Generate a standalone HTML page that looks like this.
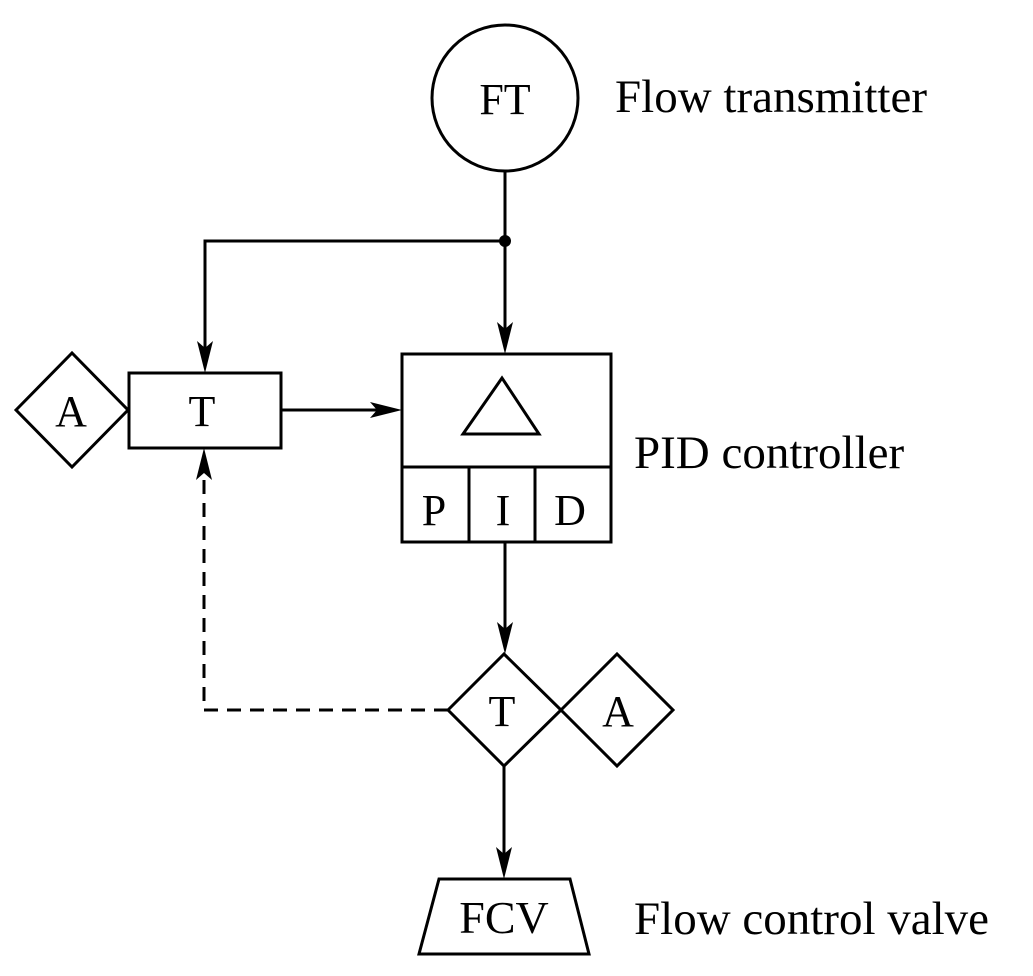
<!DOCTYPE html>
<html><head><meta charset="utf-8"><style>html,body{margin:0;padding:0;background:#fff}</style></head>
<body>
<svg width="1033" height="971" viewBox="0 0 1033 971" xmlns="http://www.w3.org/2000/svg" font-family="Liberation Serif, serif" fill="none" stroke="#000" stroke-width="3">
<circle cx="505" cy="98" r="73"/>
<line x1="505" y1="171" x2="505" y2="340"/>
<circle cx="505" cy="241" r="6" fill="#000" stroke="none"/>
<polyline points="505,241 205,241 205,360"/>
<rect x="129" y="373" width="152" height="75"/>
<polygon points="16,410 72,353 128,410 72,467"/>
<line x1="281" y1="410" x2="390" y2="410"/>
<rect x="402" y="354" width="209" height="188"/>
<line x1="402" y1="467" x2="611" y2="467"/>
<line x1="469" y1="467" x2="469" y2="542"/>
<line x1="535" y1="467" x2="535" y2="542"/>
<polygon points="502,378 463,434 539,434"/>
<line x1="505" y1="542" x2="505" y2="640"/>
<polygon points="448,710 504,654 561,710 504,766"/>
<polygon points="561,710 617,654 673,710 617,766"/>
<polyline points="448,710 204,710 204,480" stroke-dasharray="14,9"/>
<line x1="504" y1="766" x2="504" y2="865"/>
<polygon points="439,879 570,879 589,954 419,954"/>
<g fill="#000" stroke="none">
<polygon points="505,354 497,322 505,329 513,322"/>
<polygon points="205,373 197,341 205,348 213,341"/>
<polygon points="402,410 370,402 377,410 370,418"/>
<polygon points="505,654 497,622 505,629 513,622"/>
<polygon points="504,879 496,847 504,854 512,847"/>
<polygon points="204,448 196,480 204,473 212,480"/>
</g>
<g fill="#000" stroke="none" font-size="44" text-anchor="middle">
<text x="505" y="114">FT</text>
<text x="202" y="426">T</text>
<text x="71" y="426">A</text>
<text x="434" y="525">P</text>
<text x="503" y="525">I</text>
<text x="570" y="525">D</text>
<text x="502" y="726">T</text>
<text x="618" y="726">A</text>
<text x="504" y="933" font-size="46">FCV</text>
</g>
<g fill="#000" stroke="none" font-size="47">
<text x="615" y="112">Flow transmitter</text>
<text x="634" y="468">PID controller</text>
<text x="634" y="934">Flow control valve</text>
</g>
</svg>
</body></html>
